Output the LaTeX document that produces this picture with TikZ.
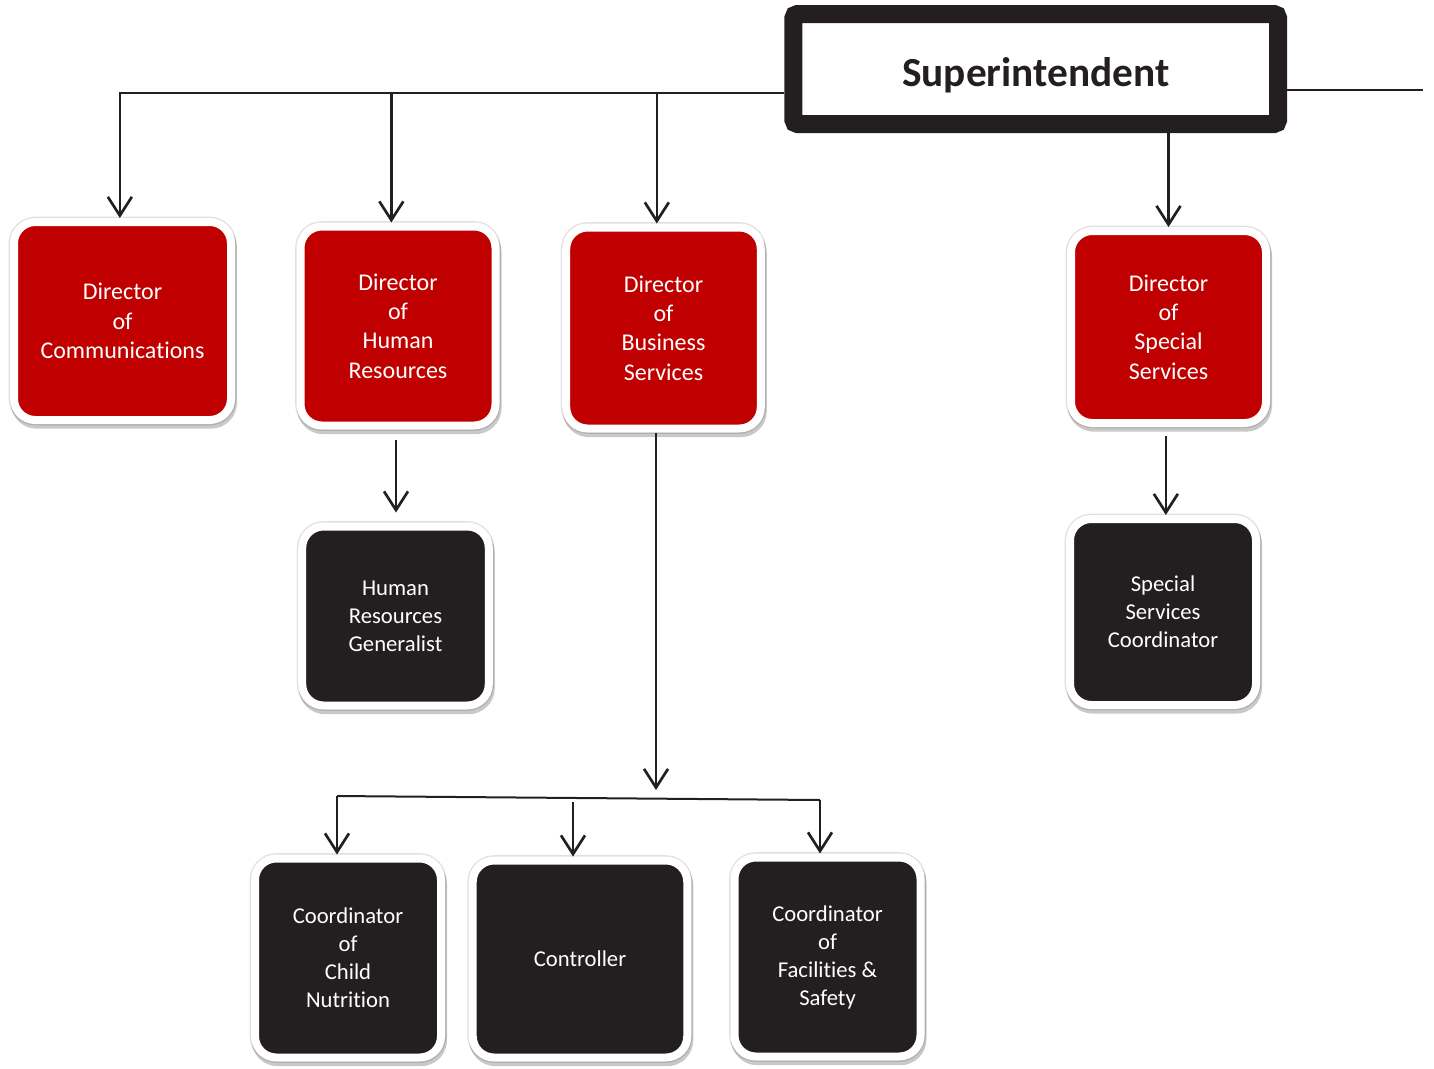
\documentclass[tikz,border=0pt]{standalone}
\usepackage{fontspec}
\setmainfont{Carlito}[Ligatures=NoCommon]
\usetikzlibrary{arrows.meta,shadows}

\definecolor{dirred}{RGB}{192,0,0}
\definecolor{boxblack}{RGB}{35,31,32}

\tikzset{every picture/.style={line width=0.75pt}}
\tikzset{
  orgbox/.style={draw=white, line width=6pt, rounded corners=16pt, outer sep=3pt, inner sep=0pt,
    align=center, text=white,
    drop shadow={shadow xshift=1pt, shadow yshift=-3pt, opacity=0.3, fill=black!70, draw=black!70, line width=7pt},
    drop shadow={shadow xshift=0pt, shadow yshift=0pt, opacity=0.12, fill=black, draw=black, line width=8pt}},
  redbox/.style={orgbox, fill=dirred, font=\fontsize{18}{22}\selectfont},
  darkbox/.style={orgbox, fill=boxblack, font=\fontsize{17}{21}\selectfont},
  headbox/.style={draw=boxblack, fill=white, line width=13.5pt, rounded corners=3pt, outer sep=6.75pt,
    inner sep=0pt, text height=30pt, text depth=4pt, text=boxblack, font=\fontsize{31}{36}\selectfont\bfseries},
  conn/.style={draw=boxblack, line width=2pt},
  arr/.style={conn, -{Straight Barb[length=14pt,width=18pt,line width=2pt]}}
}

\begin{document}
\begin{tikzpicture}[x=0.75pt,y=0.75pt,yscale=-1,xscale=1]
\useasboundingbox (0,0) rectangle (1434,1068);

%Head
\node [headbox, minimum width=363.4pt, minimum height=82.5pt] (super) at (1035.75,69) {Superintendent};

%Directors
\node [redbox, minimum width=162.75pt, minimum height=148.5pt] (comm) at (122.5,321) {Director\\of\\Communications};
\node [redbox, minimum width=146.25pt, minimum height=149.25pt] (hrdir) at (398,326) {Director\\of\\Human\\Resources};
\node [redbox, minimum width=145.9pt, minimum height=150.75pt] (busdir) at (663.5,328) {Director\\of\\Business\\Services};
\node [redbox, minimum width=146.25pt, minimum height=144pt] (spdir) at (1168.5,327) {Director\\of\\Special\\Services};

%Staff
\node [darkbox, minimum width=139.9pt, minimum height=134.25pt] (hrgen) at (395.5,616) {Human\\Resources\\Generalist};
\node [darkbox, minimum width=139.5pt, minimum height=139.5pt] (sscoord) at (1163,612) {Special\\Services\\Coordinator};
\node [darkbox, minimum width=139.5pt, minimum height=149.25pt] (nutr) at (348,958) {Coordinator\\of\\Child\\Nutrition};
\node [darkbox, minimum width=160.9pt, minimum height=147.75pt] (ctrl) at (580,959) {Controller};
\node [darkbox, minimum width=139.5pt, minimum height=149.25pt] (fac) at (827.5,957) {Coordinator\\of\\Facilities \&\\Safety};

%Top lines
\coordinate (topbus) at (784,93);
\coordinate (rightend) at (1423,90);
\draw [arr] (topbus) -| ([xshift=-2pt]comm.north);
\draw [arr] ([xshift=-5pt]hrdir.north |- topbus) -- ([xshift=-5pt]hrdir.north);
\draw [arr] ([xshift=-5pt]busdir.north |- topbus) -- ([xshift=-5pt]busdir.north);
\draw [conn] (super.east |- rightend) -- (rightend);
\draw [arr] (super.south -| spdir.north) -- (spdir.north);

%Lower lines
\draw [arr, shorten <=8pt, shorten >=7.5pt] ([xshift=-1.5pt]hrdir.south) -- ([xshift=-1.5pt]hrdir.south |- hrgen.north);
\draw [arr, shorten <=7pt] ([xshift=-2pt]spdir.south) -- ([xshift=-2pt]spdir.south |- sscoord.north);

\coordinate (split) at (656,790);
\coordinate (rowL) at (337,796);
\coordinate (rowR) at (820,800);
\coordinate (midtop) at (573,802);
\draw [arr] (split |- busdir.south) -- (split);
\draw [conn, line width=1.5pt] (rowL) -- (rowR);
\draw [arr] (rowL) -- (rowL |- nutr.north);
\draw [arr] (midtop) -- (midtop |- ctrl.north);
\draw [arr] (rowR) -- (rowR |- fac.north);

\end{tikzpicture}
\end{document}
